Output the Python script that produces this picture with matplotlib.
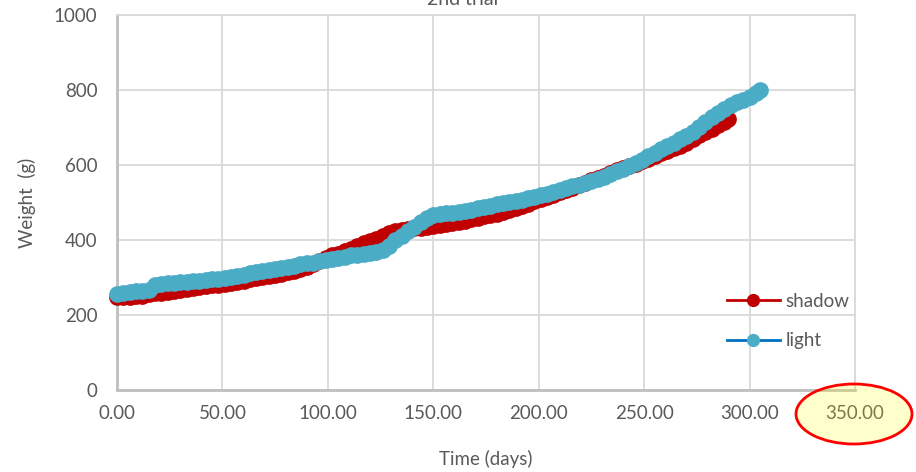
import numpy as np
import matplotlib.pyplot as plt
from matplotlib.patches import Ellipse

plt.rcParams['font.family'] = ['Lato', 'DejaVu Sans']

# shadow trial (red), every ~3 days
shadow_days = [0, 3, 6, 9, 12, 15, 18, 21, 24, 27, 30, 33, 36, 39, 42, 45, 48, 51, 54, 57,
               60, 63, 66, 69, 72, 75, 78, 81, 84, 87, 90, 93, 96, 99, 102, 105, 108, 111,
               114, 117, 120, 123, 126, 129, 132, 135, 138, 141, 144, 147, 150, 153, 156,
               159, 162, 165, 168, 171, 174, 177, 180, 183, 186, 189, 192, 195, 198, 201,
               204, 207, 210, 213, 216, 219, 222, 225, 228, 231, 234, 237, 240, 243, 246,
               249, 252, 255, 258, 261, 264, 267, 270, 273, 276, 279, 282, 285, 288, 290]
shadow_weight = [247, 248, 249, 250, 252, 255, 258, 260, 262, 265, 267, 270, 272, 274, 277,
                 279, 281, 284, 286, 289, 292, 295, 298, 301, 304, 307, 310, 314, 318, 323,
                 328, 336, 344, 352, 359, 364, 370, 376, 383, 391, 398, 404, 411, 418, 423,
                 427, 430, 432, 433, 435, 437, 439, 442, 445, 448, 451, 455, 459, 463, 466,
                 470, 475, 481, 486, 492, 497, 503, 509, 515, 521, 527, 533, 539, 546, 552,
                 559, 566, 572, 579, 586, 592, 598, 604, 611, 617, 624, 631, 638, 645, 652,
                 660, 669, 679, 687, 696, 706, 716, 722]

# light trial (blue)
light_days = [0, 3, 6, 9, 12, 15, 18, 21, 24, 27, 30, 33, 36, 39, 42, 45, 48, 51, 54, 57,
              60, 63, 66, 69, 72, 75, 78, 81, 84, 87, 90, 93, 96, 99, 102, 105, 108, 111,
              114, 117, 120, 123, 126, 129, 132, 135, 138, 141, 144, 147, 150, 153, 156,
              159, 162, 165, 168, 171, 174, 177, 180, 183, 186, 189, 192, 195, 198, 201,
              204, 207, 210, 213, 216, 219, 222, 225, 228, 231, 234, 237, 240, 243, 246,
              249, 252, 255, 258, 261, 264, 267, 270, 273, 276, 279, 282, 285, 288, 291,
              294, 297, 300, 303, 305]
light_weight = [255, 259, 262, 263, 264, 266, 281, 283, 285, 286, 288, 289, 291, 292, 293,
                295, 297, 299, 302, 305, 308, 311, 314, 317, 320, 322, 325, 328, 331, 335,
                338, 340, 343, 346, 349, 352, 356, 359, 361, 363, 366, 369, 374, 385, 399,
                412, 424, 436, 448, 459, 466, 469, 471, 473, 476, 478, 481, 485, 489, 492,
                495, 498, 501, 505, 508, 512, 515, 520, 524, 529, 533, 538, 543, 547, 552,
                558, 563, 569, 576, 583, 590, 598, 606, 614, 623, 632, 642, 651, 660, 669,
                677, 689, 702, 716, 727, 740, 750, 759, 767, 774, 782, 792, 800]

x_ticks = [0, 50, 100, 150, 200, 250, 300, 350]
y_ticks = [0, 200, 400, 600, 800, 1000]

fig = plt.figure(figsize=(9.16, 4.72), dpi=100)
ax = fig.add_axes([117 / 916, 82 / 472, 738 / 916, 375 / 472])

ax.plot(shadow_days, shadow_weight, '-o', color='#C00000', lw=2, ms=11,
        mfc='#C00000', mec='#C00000', label='shadow', clip_on=False, zorder=3)
ax.plot(light_days, light_weight, '-o', color='#0070C0', lw=2, ms=11,
        mfc='#4BACC6', mec='#4BACC6', label='light', clip_on=False, zorder=4)

ax.set_xlim(0, 350)
ax.set_ylim(0, 1000)
ax.set_xticks(x_ticks)
ax.set_xticklabels(['{:.2f}'.format(t) for t in x_ticks])
ax.set_yticks(y_ticks)
ax.tick_params(axis='both', length=0, labelsize=13.5, labelcolor='#595959')
ax.tick_params(axis='x', pad=11)
ax.tick_params(axis='y', pad=14)
ax.grid(True, color='#D9D9D9', lw=1.3)
ax.set_axisbelow(True)
for s in ['left', 'bottom']:
    ax.spines[s].set_color('#BFBFBF')
    ax.spines[s].set_linewidth(2)
for s in ['top', 'right']:
    ax.spines[s].set_color('#D9D9D9')
    ax.spines[s].set_linewidth(1.3)

ax.set_ylabel('Weight  (g)', fontsize=13.5, color='#595959')
ax.yaxis.set_label_coords(-0.11, 0.5)
ax.set_xlabel('Time (days)', fontsize=13.5, color='#595959')
ax.xaxis.set_label_coords(0.5, -0.16)

leg = ax.legend(loc='upper left', bbox_to_anchor=(0.8266, 0.259), frameon=False,
                fontsize=13.5, handlelength=2.8, handletextpad=0.3, borderpad=0,
                borderaxespad=0, labelspacing=1.2, labelcolor='#595959')
for h in leg.legend_handles:
    h.set_markersize(8.5)

fig.text(463 / 916, 1 - 5 / 472, '2nd trial', fontsize=14, color='#595959',
         ha='center', va='baseline')

ell = Ellipse((854 / 916, 1 - 414 / 472), 116 / 916, 60 / 472, transform=fig.transFigure,
              facecolor=(1, 1, 0, 0.2), edgecolor='red', lw=2)
fig.patches.append(ell)

fig.savefig('out.png', dpi=100)
